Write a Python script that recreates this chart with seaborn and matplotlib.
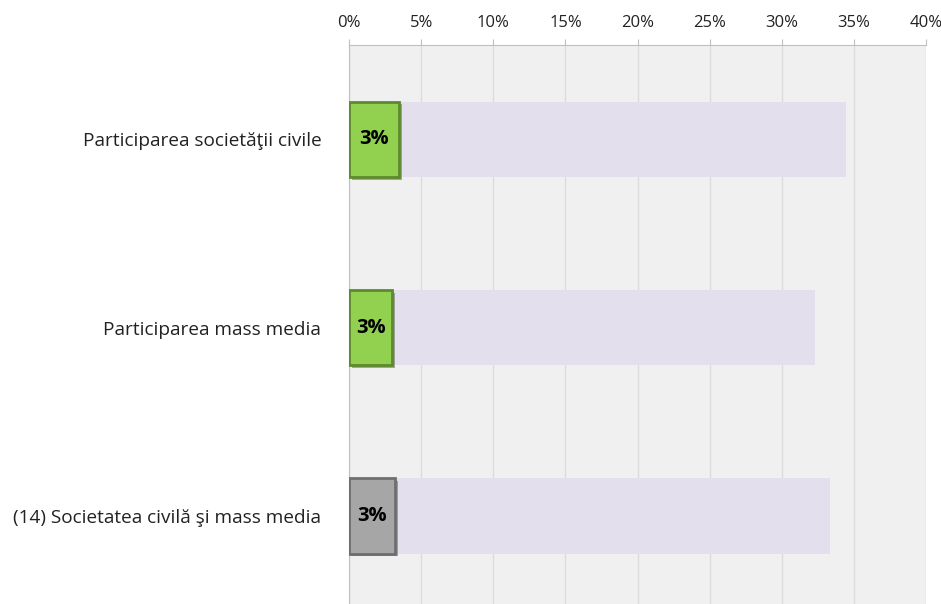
import pandas as pd
import matplotlib.pyplot as plt
import matplotlib.patheffects as pe
import seaborn as sns

categories = ["Participarea societăţii civile", "Participarea mass media",
              "(14) Societatea civilă şi mass media"]
reference = [34.45, 32.3, 33.35]
score = [3.45, 3.0, 3.2]
score_labels = ["3%", "3%", "3%"]
bar_colors = ["#92D050", "#92D050", "#A6A6A6"]
edge_colors = ["#5E8A2E", "#5E8A2E", "#6E6E6E"]

df = pd.DataFrame({"category": categories, "reference": reference, "score": score})

sns.set_style("white")
plt.rcParams['font.family'] = ['Open Sans', 'DejaVu Sans']

fig = plt.figure(figsize=(9.41, 6.04), dpi=100)
ax = fig.add_axes([0.371, -0.01, 0.613, 0.9355])
ax.set_facecolor("#F0F0F0")

# background bars
sns.barplot(data=df, y="category", x="reference", color="#E4DFEC", width=0.4,
            saturation=1, linewidth=0, orient="h", ax=ax, zorder=2)
# score bars
sns.barplot(data=df, y="category", x="score", hue="category", palette=bar_colors,
            saturation=1, legend=False, width=0.4, orient="h", ax=ax, zorder=3)

for patch, ec in zip(ax.patches[3:], edge_colors):
    patch.set_edgecolor(ec)
    patch.set_linewidth(2)
    patch.set_path_effects([pe.SimplePatchShadow(offset=(2, -2), alpha=0.4), pe.Normal()])

for i, (v, lab) in enumerate(zip(score, score_labels)):
    ax.text(v / 2, i, lab, ha="center", va="center", fontsize=14.5,
            fontweight="bold", color="black", zorder=5)

ax.set_xlim(0, 40)
ax.set_ylim(2.5, -0.5)
ax.set_xticks(range(0, 41, 5))
ax.set_xticklabels([f"{t}%" for t in range(0, 41, 5)], fontsize=12)
ax.xaxis.tick_top()
ax.tick_params(axis="x", length=4, color="#BFBFBF", pad=6, colors="#222222")
ax.tick_params(axis="y", length=0, pad=20, labelsize=13.7, colors="#222222")
ax.set_yticks([0.5, 1.5], minor=True)
ax.tick_params(axis="y", which="minor", length=5, color="#BFBFBF", width=1)
ax.grid(axis="x", color="#DCDCDC", linewidth=1, zorder=0)
ax.set_axisbelow(True)
ax.set_xlabel("")
ax.set_ylabel("")

for s in ["right", "bottom"]:
    ax.spines[s].set_visible(False)
ax.spines["top"].set_color("#BFBFBF")
ax.spines["left"].set_color("#BFBFBF")

fig.savefig("out.png", dpi=100)
